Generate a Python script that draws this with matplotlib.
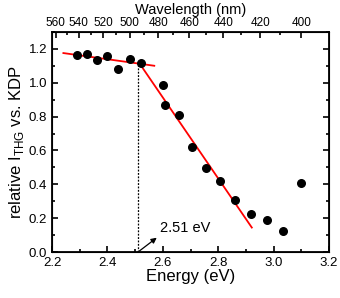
import numpy as np
import matplotlib
matplotlib.use('Agg')
import matplotlib.pyplot as plt
from matplotlib.ticker import MultipleLocator, FixedLocator

plt.rcParams['font.family'] = ['Liberation Sans', 'DejaVu Sans']

# measured points
energy = [2.289, 2.325, 2.361, 2.400, 2.439, 2.480, 2.522, 2.600, 2.609, 2.657,
          2.704, 2.755, 2.806, 2.861, 2.917, 2.975, 3.035, 3.099]
rel_thg = [1.165, 1.172, 1.133, 1.159, 1.082, 1.139, 1.118, 0.986, 0.871, 0.808,
           0.622, 0.496, 0.422, 0.310, 0.224, 0.188, 0.124, 0.410]

# linear fits (end points)
fit1_x = [2.241, 2.569]
fit1_y = [1.175, 1.100]
fit2_x = [2.514, 2.921]
fit2_y = [1.118, 0.145]

edge = 2.51
edge_y = 1.118

wl_labels = [560, 540, 520, 500, 480, 460, 440, 420, 400]
wl_minor = [550, 530, 510, 490, 470, 450, 430, 410]

fig = plt.figure(figsize=(3.4, 2.98), dpi=100)
ax = fig.add_axes([0.153, 0.154, 0.815, 0.739])

ax.plot(fit1_x, fit1_y, color='red', lw=1.3)
ax.plot(fit2_x, fit2_y, color='red', lw=1.3)
ax.plot([edge, edge], [0, edge_y], color='black', ls=(0, (1.5, 1.2)), lw=0.9)
ax.scatter(energy, rel_thg, s=30, color='black', zorder=3)

ax.annotate('', xy=(2.578, 0.085), xytext=(edge, 0.0),
            arrowprops=dict(arrowstyle='-|>', color='black', lw=0.9,
                            mutation_scale=8, shrinkA=0, shrinkB=0))
ax.text(2.588, 0.143, '2.51 eV', fontsize=10.5, va='center', ha='left')

ax.set_xlim(2.2, 3.2)
ax.set_ylim(0.0, 1.3)
ax.xaxis.set_major_locator(MultipleLocator(0.2))
ax.xaxis.set_minor_locator(MultipleLocator(0.1))
ax.yaxis.set_major_locator(MultipleLocator(0.2))
ax.yaxis.set_minor_locator(MultipleLocator(0.1))
ax.xaxis.set_major_formatter(plt.FuncFormatter(lambda v, p: '%.1f' % v))
ax.yaxis.set_major_formatter(plt.FuncFormatter(lambda v, p: '%.1f' % v))

ax.tick_params(which='both', direction='in', right=True, top=False, labelsize=9.5, width=1.2)
ax.tick_params(which='major', length=4)
ax.tick_params(which='minor', length=2.5)
for s in ax.spines.values():
    s.set_linewidth(1.3)

ax.set_xlabel('Energy (eV)', fontsize=12, labelpad=0)
ax.set_ylabel('relative I$_\\mathregular{THG}$ vs. KDP', fontsize=12, labelpad=2)

top = ax.twiny()
top.set_xlim(ax.get_xlim())
top.xaxis.set_major_locator(FixedLocator([1239.84 / w for w in wl_labels]))
top.xaxis.set_minor_locator(FixedLocator([1239.84 / w for w in wl_minor]))
top.set_xticklabels([str(w) for w in wl_labels])
top.tick_params(which='both', direction='in', labelsize=8.5, width=1.2, pad=2)
top.tick_params(which='major', length=4)
top.tick_params(which='minor', length=2.5)
top.set_xlabel('Wavelength (nm)', fontsize=10.5, labelpad=2)

fig.savefig('out.png', dpi=100)
